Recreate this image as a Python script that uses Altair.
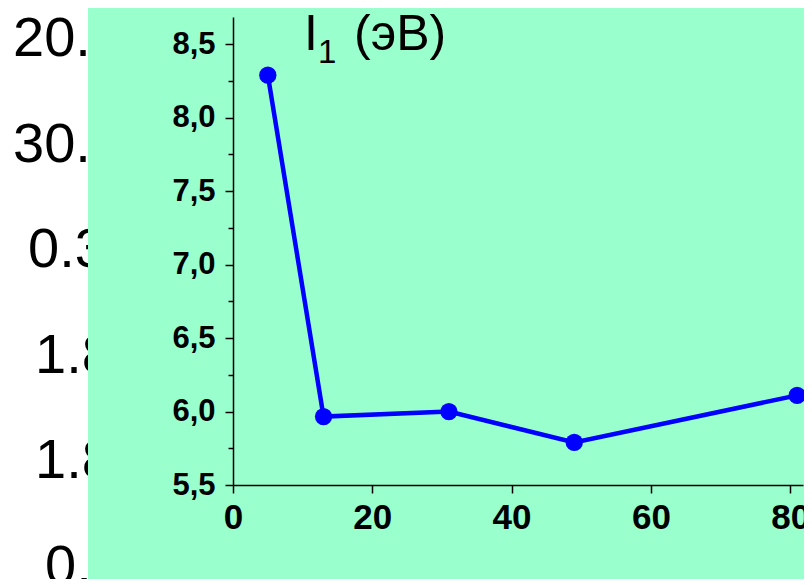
import altair as alt
import pandas as pd

# ---- data ----
x_vals = [5, 13, 31, 49, 81]
y_vals = [8.29, 5.966, 6.0, 5.79, 6.11]
x_ticks = [0, 20, 40, 60, 80]
y_ticks = [5.5, 5.75, 6.0, 6.25, 6.5, 6.75, 7.0, 7.25, 7.5, 7.75, 8.0, 8.25, 8.5]
table_texts = ["20.", "30.", "0.3", "1.8", "1.8", "0,"]
title_main = "I"
title_sub = "1"
title_rest = "(эВ)"

# ---- layout ----
W, H = 570, 468
PAD = {"left": 225, "top": 9, "right": 1, "bottom": 94}
GREEN = "#99FFCC"
BLUE = "#0000FF"
FONT = "Liberation Sans"

table_x = [13, 13, 28, 35, 35, 45]          # page x of each left cut-off entry
table_base0, table_step = 56, 105.6          # page baseline of first entry, row spacing

df = pd.DataFrame({"x": x_vals, "y": y_vals})
dummy = pd.DataFrame({"a": [0]})

xscale = alt.Scale(domain=[0, 81.84], nice=False, zero=False)
yscale = alt.Scale(domain=[5.5, 8.686], nice=False, zero=False)

xaxis = alt.Axis(
    values=x_ticks, format="d", title=None, grid=False,
    labelFont=FONT, labelFontWeight="bold", labelFontSize=35, labelColor="black",
    labelPadding=7, labelFlush=False, labelOverlap=False,
    tickSize=8, tickWidth=1.5, tickColor="black",
    domainColor="black", domainWidth=1.5, zindex=1,
)
yaxis = alt.Axis(
    values=y_ticks, title=None, grid=False,
    labelExpr="datum.value % 0.5 == 0 ? replace(format(datum.value, '.1f'), '.', ',') : ''",
    labelFont=FONT, labelFontWeight="bold", labelFontSize=31, labelColor="black",
    labelPadding=10, labelFlush=False, labelOverlap=False,
    tickSize={"condition": {"test": "datum.value % 0.5 != 0", "value": 5}, "value": 8},
    tickWidth=1.5, tickColor="black",
    domainColor="black", domainWidth=1.5, zindex=1,
)

layers = []

# left, cut-off table entries (drawn first, then covered by the green panel)
for i, s in enumerate(table_texts):
    layers.append(
        alt.Chart(dummy).mark_text(
            align="left", baseline="alphabetic", font=FONT, fontSize=56, color="black"
        ).encode(
            x=alt.value(table_x[i] - 8 - PAD["left"]),
            y=alt.value(table_base0 + i * table_step - 8 - PAD["top"]),
            text=alt.value(s),
        )
    )

# green panel
layers.append(
    alt.Chart(dummy).mark_rect(color=GREEN).encode(
        x=alt.value(88 - 8 - PAD["left"]),
        x2=alt.value(W + 40),
        y=alt.value(-PAD["top"] - 5),
        y2=alt.value(H + PAD["bottom"] + 5),
    )
)

base = alt.Chart(df).encode(
    x=alt.X("x:Q", scale=xscale, axis=xaxis),
    y=alt.Y("y:Q", scale=yscale, axis=yaxis),
)
layers.append(base.mark_line(color=BLUE, strokeWidth=4.5))
layers.append(base.mark_circle(color=BLUE, opacity=1, size=300))

# title I_1 (эВ)
layers.append(
    alt.Chart(dummy).mark_text(align="left", baseline="alphabetic", font=FONT,
                               fontSize=50, color="black").encode(
        x=alt.value(71), y=alt.value(33), text=alt.value(title_main))
)
layers.append(
    alt.Chart(dummy).mark_text(align="left", baseline="alphabetic", font=FONT,
                               fontSize=33, color="black").encode(
        x=alt.value(85), y=alt.value(46), text=alt.value(title_sub))
)
layers.append(
    alt.Chart(dummy).mark_text(align="left", baseline="alphabetic", font=FONT,
                               fontSize=50, color="black").encode(
        x=alt.value(121), y=alt.value(33), text=alt.value(title_rest))
)

chart = alt.layer(*layers).properties(
    width=W, height=H,
    autosize=alt.AutoSizeParams(type="none"),
    padding=PAD,
    background="white",
).configure_view(stroke=None)

chart.save("out.html", embed_options={"renderer": "svg", "actions": False})
